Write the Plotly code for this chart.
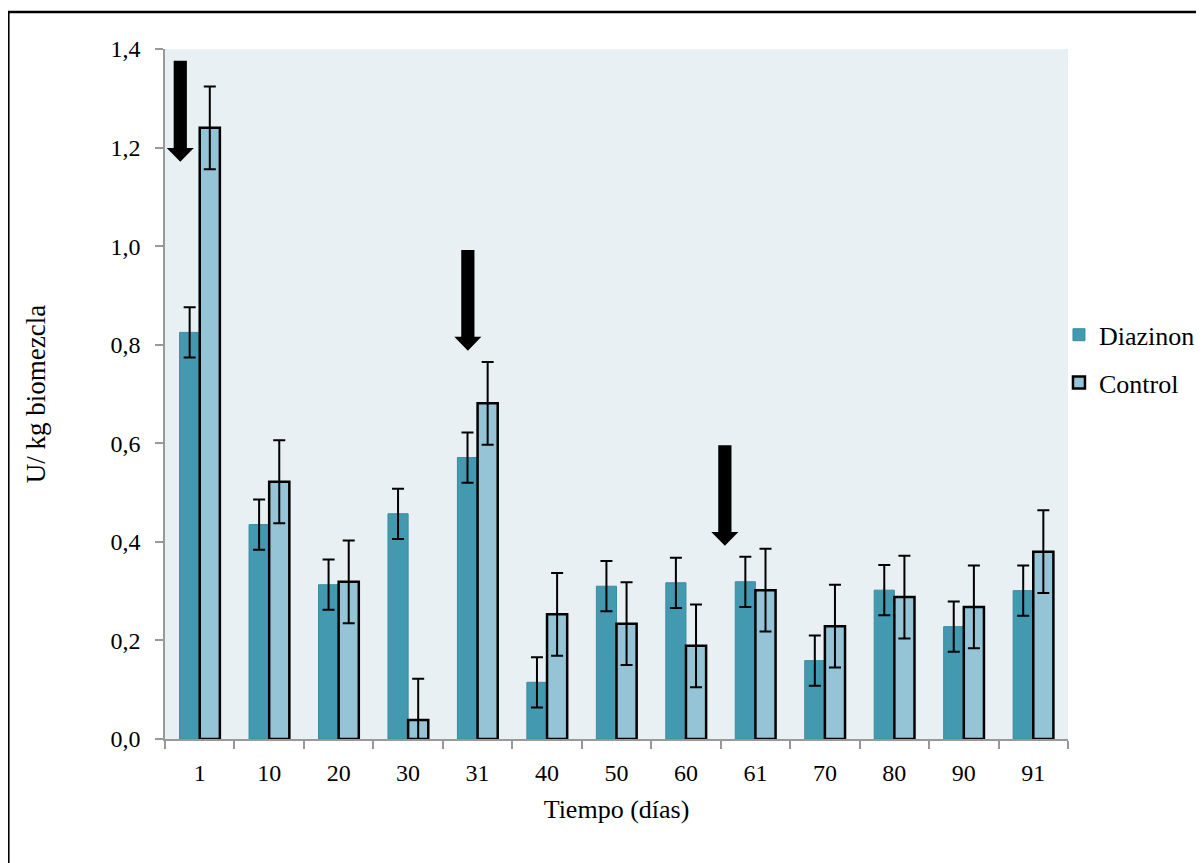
import plotly.graph_objects as go

# ---- data ----
dias = ["1", "10", "20", "30", "31", "40", "50", "60", "61", "70", "80", "90", "91"]
diazinon = [0.825, 0.435, 0.313, 0.457, 0.571, 0.115, 0.310, 0.317, 0.319, 0.159, 0.302, 0.228, 0.301]
diazinon_err = [0.051, 0.051, 0.051, 0.051, 0.051, 0.051, 0.051, 0.051, 0.051, 0.051, 0.051, 0.051, 0.051]
control = [1.240, 0.522, 0.319, 0.0385, 0.681, 0.253, 0.234, 0.189, 0.302, 0.229, 0.288, 0.268, 0.380]
control_err = [0.084, 0.084, 0.084, 0.084, 0.084, 0.084, 0.084, 0.084, 0.084, 0.084, 0.084, 0.084, 0.084]
y_ticks = [0.0, 0.2, 0.4, 0.6, 0.8, 1.0, 1.2, 1.4]
y_tick_labels = ["0,0", "0,2", "0,4", "0,6", "0,8", "1,0", "1,2", "1,4"]
# application events marked with arrows: day, arrow top value, arrow tip value
arrow_days = ["1", "31", "61"]
arrow_top = [1.376, 0.992, 0.596]
arrow_tip = [1.171, 0.788, 0.392]

FONT = "Liberation Serif"

fig = go.Figure()
fig.add_trace(go.Bar(
    x=dias, y=diazinon, name="Diazinon", legendgroup="d",
    marker=dict(color="#4399B0", line=dict(color="#3A8CA2", width=1)),
    error_y=dict(type="data", array=diazinon_err, color="black", thickness=2, width=6),
))
fig.add_trace(go.Bar(
    x=dias, y=control, name="Control", legendgroup="c",
    marker=dict(color="#94C4D6", line=dict(color="black", width=2.5)),
    error_y=dict(type="data", array=control_err, color="black", thickness=2, width=6),
))

# arrows (x in axis-domain fraction, y in data units)
n = len(dias)
offsets = [-0.28, -0.14, -0.44]
shaft_half = 0.095
head_half = 0.195
for d, top, tip, off in zip(arrow_days, arrow_top, arrow_tip, offsets):
    c = dias.index(d) + 0.5 + off
    base = tip + 0.028

    def fx(v):
        return (c + v) / n
    path = (f"M {fx(-shaft_half)},{top} L {fx(shaft_half)},{top} L {fx(shaft_half)},{base} "
            f"L {fx(head_half)},{base} L {fx(0)},{tip} L {fx(-head_half)},{base} "
            f"L {fx(-shaft_half)},{base} Z")
    fig.add_shape(type="path", path=path, xref="x domain", yref="y",
                  fillcolor="black", line=dict(color="black", width=0))

# outer border
fig.add_shape(type="rect", xref="paper", yref="paper", x0=-0.1735, x1=1.3, y0=-0.4, y1=1.0536,
              line=dict(color="black", width=2.5), fillcolor="rgba(0,0,0,0)", layer="above")

fig.update_layout(
    width=1204, height=863,
    margin=dict(l=157, r=142, t=41, b=132),
    paper_bgcolor="white", plot_bgcolor="#E8F0F3",
    font=dict(family=FONT, size=24, color="black"),
    barmode="group", bargap=0.42, bargroupgap=0,
    separators=",.",
    legend=dict(x=0.99, y=0.551, xanchor="left", yanchor="middle",
                font=dict(family=FONT, size=26, color="black"), tracegroupgap=11,
                itemwidth=30, bgcolor="rgba(0,0,0,0)"),
    showlegend=True,
)
fig.update_xaxes(
    type="category", tickson="boundaries", ticks="outside", ticklen=8, tickwidth=1.5,
    tickcolor="#999999", showline=True, linecolor="#999999", linewidth=1.5,
    showgrid=False,
    title=dict(text="Tiempo (días)", standoff=15, font=dict(family=FONT, size=26, color="black")),
    tickfont=dict(family=FONT, size=24, color="black"), ticklabelstandoff=11,
)
fig.update_yaxes(
    range=[0, 1.4], tickvals=y_ticks, ticktext=y_tick_labels, ticks="outside", ticklen=8,
    tickwidth=1.5, tickcolor="#999999", showline=True, linecolor="#999999", linewidth=1.5,
    showgrid=False, zeroline=False,
    title=dict(text="U/ kg biomezcla", standoff=57, font=dict(family=FONT, size=27, color="black")),
    tickfont=dict(family=FONT, size=24, color="black"), ticklabelstandoff=10,
)

fig.write_html("out.html")
